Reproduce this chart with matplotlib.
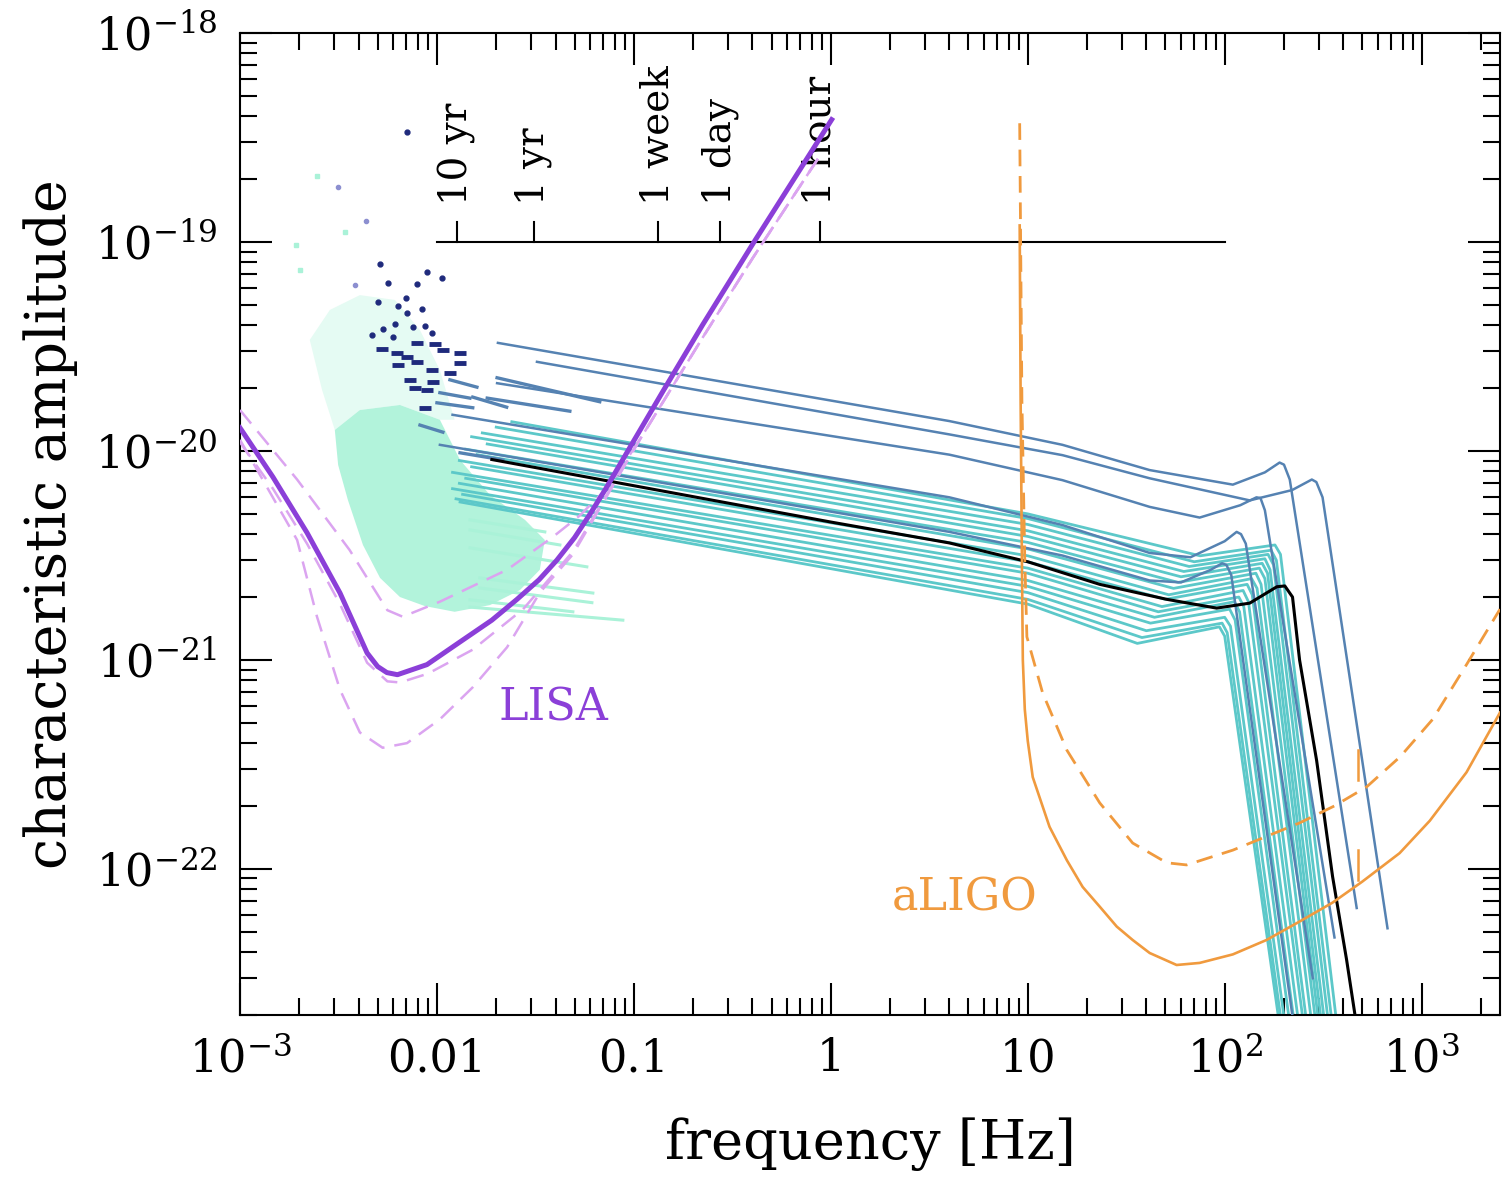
import numpy as np
import matplotlib
matplotlib.use('Agg')
import matplotlib.pyplot as plt
from matplotlib.ticker import NullFormatter

plt.rcParams['font.family'] = ['DejaVu Serif']
plt.rcParams['mathtext.fontset'] = 'dejavuserif'

# ---- LISA sensitivity (solid + three dashed alternatives) ----
lisa_f = [1e-3, 1.47e-3, 2.19e-3, 3.22e-3, 4.42e-3, 5.0e-3, 5.57e-3, 6.3e-3, 8.9e-3, 0.0131, 0.019,
          0.0255, 0.033, 0.0406, 0.05, 0.06, 0.072, 0.1, 0.14, 0.224, 0.402, 1.01]
lisa_h = [1.29e-20, 7.5e-21, 4.06e-21, 2.09e-21, 1.08e-21, 9.3e-22, 8.7e-22, 8.5e-22, 9.5e-22, 1.22e-21, 1.55e-21,
          1.95e-21, 2.42e-21, 3.0e-21, 3.85e-21, 5.0e-21, 6.6e-21, 1.12e-20, 1.92e-20, 4.03e-20, 9.8e-20, 3.85e-19]

lisa_a_f = [1e-3, 1.95e-3, 3.6e-3, 5.6e-3, 6.7e-3, 0.01035, 0.0227, 0.0388, 0.053, 0.075,
            0.107, 0.224, 0.402, 0.86]
lisa_a_h = [1.57e-20, 7.3e-21, 3.36e-21, 1.73e-21, 1.61e-21, 1.9e-21, 2.7e-21, 3.88e-21, 4.9e-21,
            6.8e-21, 1.13e-20, 3.5e-20, 8.4e-20, 2.5e-19]
lisa_b_f = [1e-3, 1.47e-3, 2.19e-3, 3.22e-3, 4.42e-3, 5.6e-3, 6.5e-3, 9.0e-3, 0.0152, 0.0274,
            0.049, 0.107, 0.224, 0.402, 0.86]
lisa_b_h = [1.1e-20, 6.6e-21, 3.6e-21, 1.85e-21, 9.7e-22, 7.9e-22, 7.8e-22, 8.6e-22, 1.12e-21,
            1.75e-21, 3.3e-21, 1.13e-20, 3.5e-20, 8.4e-20, 2.5e-19]
lisa_c_f = [1e-3, 1.95e-3, 2.46e-3, 3.22e-3, 4.06e-3, 5.3e-3, 7.05e-3, 0.01035, 0.0152, 0.0227,
            0.0333, 0.049, 0.107, 0.224, 0.402, 0.86]
lisa_c_h = [1.13e-20, 3.75e-21, 1.61e-21, 7.2e-22, 4.5e-22, 3.8e-22, 4.0e-22, 5.2e-22, 7.4e-22,
            1.15e-21, 2.1e-21, 3.2e-21, 1.13e-20, 3.5e-20, 8.4e-20, 2.5e-19]

# ---- aLIGO sensitivity ----
ligo_f = [9.1, 9.2, 9.34, 9.44, 9.66, 10.0, 10.6, 12.9, 15.8, 19.0, 23.2, 28.3, 34.1, 41.6, 57.0, 74.6,
          110, 163, 240, 353, 500, 773, 1100, 1690, 2500]
ligo_h = [1.2e-19, 1.75e-20, 3.0e-21, 1.0e-21, 5.8e-22, 4.1e-22, 2.75e-22, 1.59e-22, 1.1e-22, 8.2e-23,
          6.6e-23, 5.3e-23, 4.57e-23, 3.96e-23, 3.47e-23, 3.55e-23,
          3.9e-23, 4.57e-23, 5.6e-23, 6.9e-23, 8.7e-23, 1.19e-22, 1.7e-22, 2.9e-22, 5.6e-22]
ligo_d_f = [9.1, 9.34, 9.66, 9.9, 11.9, 15.8, 23.2, 34.1, 50.8, 64.1, 110, 240, 360, 526, 780, 1138, 1690, 2500]
ligo_d_h = [3.7e-19, 1.75e-20, 3.0e-21, 1.29e-21, 6.95e-22, 3.7e-22, 2.07e-22, 1.33e-22, 1.07e-22,
            1.045e-22, 1.23e-22, 1.66e-22, 2.0e-22, 2.47e-22, 3.45e-22, 5.2e-22, 9.5e-22, 1.75e-21]
ligo_mark_f = 473
ligo_mark_h = [(2.67e-22, 3.7e-22), (8.9e-23, 1.23e-22)]

# ---- time-to-coalescence scale ----
time_f = [0.0127, 0.031, 0.132, 0.275, 0.88]
time_lab = ['10 yr', '1 yr', '1 week', '1 day', '1 hour']
time_h = 1e-19
time_range = [0.01, 100]

# ---- full tracks (steel blue) ----
steel_tracks_f = [
    [0.0204, 4.0, 15, 41.6, 110, 160, 190, 200, 214, 468],
    [0.0322, 4.0, 15, 41.6, 134, 220, 277, 292, 314, 671],
    [0.0202, 4.0, 15, 41.6, 74.6, 120, 145, 152, 160, 361],
    [0.012, 4.0, 15, 41.6, 67, 100, 115, 121, 128, 280],
    [0.01035, 4.0, 15, 41.6, 60, 85, 97, 102, 108, 230],
]
steel_tracks_h = [
    [3.29e-20, 1.39e-20, 1.07e-20, 8.1e-21, 6.9e-21, 7.9e-21, 8.8e-21, 8.6e-21, 7.3e-21, 6.5e-23],
    [2.67e-20, 1.2e-20, 9.55e-21, 7.4e-21, 5.8e-21, 6.5e-21, 7.3e-21, 7.1e-21, 6.0e-21, 5.2e-23],
    [2.11e-20, 9.6e-21, 7.25e-21, 5.4e-21, 4.8e-21, 5.5e-21, 6.0e-21, 5.95e-21, 5.2e-21, 4.7e-23],
    [1.49e-20, 6.0e-21, 4.42e-21, 3.25e-21, 3.1e-21, 3.7e-21, 4.1e-21, 4.0e-21, 3.6e-21, 3.0e-23],
    [1.07e-20, 4.1e-21, 3.16e-21, 2.4e-21, 2.35e-21, 2.7e-21, 2.9e-21, 2.85e-21, 2.55e-21, 1.5e-23],
]

# ---- highlighted (black) track ----
black_f = [0.019, 1.0, 4.0, 10, 23.2, 50.8, 91, 134, 184, 202, 221, 240, 293, 353, 416, 457]
black_h = [9.1e-21, 4.57e-21, 3.63e-21, 2.95e-21, 2.3e-21, 1.95e-21, 1.77e-21, 1.87e-21, 2.24e-21,
           2.26e-21, 2.0e-21, 1.0e-21, 3.3e-22, 9.2e-23, 3.67e-23, 2.05e-23]

# ---- teal bundle: start, value at 10 Hz, dip, peak, shoulder, end ----
teal_f0 = [0.024, 0.020, 0.017, 0.015, 0.018, 0.014, 0.016, 0.013, 0.015, 0.012, 0.014, 0.013, 0.012, 0.0135, 0.0125, 0.0131]
teal_h0 = [1.38e-20, 1.30e-20, 1.22e-20, 1.17e-20, 1.08e-20, 1.02e-20, 9.6e-21, 9.0e-21, 8.4e-21, 7.9e-21, 7.4e-21, 7.0e-21, 6.6e-21, 6.2e-21, 5.9e-21, 5.7e-21]
teal_fk = 10
teal_hk = [5.0e-21, 4.75e-21, 4.45e-21, 4.15e-21, 3.9e-21, 3.65e-21, 3.4e-21, 3.15e-21, 2.95e-21, 2.75e-21, 2.6e-21, 2.4e-21, 2.25e-21, 2.1e-21, 1.95e-21, 1.85e-21]
teal_fd = [75, 70, 66, 62, 60, 58, 55, 52, 50, 48, 46, 44, 42, 40, 38, 36]
teal_hd = [3.15e-21, 2.95e-21, 2.8e-21, 2.65e-21, 2.5e-21, 2.35e-21, 2.2e-21, 2.05e-21, 1.95e-21, 1.8e-21, 1.7e-21, 1.6e-21, 1.5e-21, 1.38e-21, 1.28e-21, 1.2e-21]
teal_fp = [180, 172, 166, 160, 155, 150, 144, 137, 130, 124, 118, 112, 106, 100, 97, 94]
teal_hp = [3.55e-21, 3.35e-21, 3.2e-21, 3.05e-21, 2.9e-21, 2.75e-21, 2.6e-21, 2.45e-21, 2.3e-21, 2.15e-21, 2.0e-21, 1.9e-21, 1.75e-21, 1.6e-21, 1.5e-21, 1.44e-21]
teal_fs = [192, 183, 177, 170, 165, 160, 153, 146, 138, 132, 125, 119, 113, 107, 103, 100]
teal_hs = [3.2e-21, 3.0e-21, 2.85e-21, 2.7e-21, 2.6e-21, 2.45e-21, 2.3e-21, 2.2e-21, 2.05e-21, 1.9e-21, 1.8e-21, 1.7e-21, 1.55e-21, 1.45e-21, 1.35e-21, 1.3e-21]
teal_fe = [380, 360, 345, 330, 318, 308, 298, 284, 268, 258, 244, 232, 220, 208, 200, 195]
teal_he = 1.5e-23

# ---- short tracks / low-frequency sources ----
seg_f0 = [0.0082, 0.01, 0.01035, 0.01164, 0.0152, 0.0202, 0.018, 0.0131]
seg_h0 = [1.33e-20, 1.70e-20, 1.90e-20, 2.19e-20, 1.81e-20, 2.24e-20, 1.79e-20, 9.8e-21]
seg_f1 = [0.01072, 0.0152, 0.0147, 0.01596, 0.0226, 0.0671, 0.0473, 0.0216]
seg_h1 = [1.23e-20, 1.61e-20, 1.79e-20, 2.02e-20, 1.62e-20, 1.72e-20, 1.55e-20, 9.06e-21]

green_f0 = [0.01472, 0.0165, 0.0165, 0.01472, 0.01472, 0.01472, 0.01472]
green_h0 = [3.44e-21, 2.47e-21, 2.21e-21, 1.94e-21, 1.79e-21, 4.19e-21, 4.68e-21]
green_f1 = [0.0577, 0.0619, 0.0612, 0.049, 0.0879, 0.0421, 0.0353]
green_h1 = [2.79e-21, 2.09e-21, 1.88e-21, 1.70e-21, 1.55e-21, 3.55e-21, 4.1e-21]

cloud_f = [0.00303, 0.00406, 0.00649, 0.01035, 0.0131, 0.0186, 0.028, 0.0353, 0.0333, 0.0264,
           0.0186, 0.0123, 0.00869, 0.00649, 0.00514, 0.00421, 0.00353, 0.00315]
cloud_h = [1.26e-20, 1.57e-20, 1.66e-20, 1.41e-20, 9.06e-21, 6.15e-21, 4.68e-21, 3.75e-21, 2.7e-21, 2.16e-21,
           1.83e-21, 1.70e-21, 1.81e-21, 2.0e-21, 2.47e-21, 3.55e-21, 5.83e-21, 8.57e-21]
sparse_f = [0.00226, 0.00286, 0.00406, 0.00612, 0.0082, 0.01035, 0.0123, 0.01035, 0.00649, 0.00406, 0.00303, 0.00261]
sparse_h = [3.4e-20, 4.73e-20, 5.57e-20, 5.28e-20, 3.79e-20, 2.44e-20, 1.41e-20, 1.41e-20, 1.66e-20, 1.57e-20, 1.26e-20, 1.96e-20]
spot_f = [0.00246, 0.00202, 0.00341, 0.00193]
spot_h = [2.07e-19, 7.35e-20, 1.12e-19, 9.7e-20]

navy_f = [0.00705, 0.00514, 0.00889, 0.0106, 0.0079, 0.00564, 0.00697, 0.00501, 0.00634, 0.00705,
          0.00839, 0.00612, 0.00755, 0.00869, 0.00944, 0.00468, 0.00532, 0.00598]
navy_h = [3.36e-19, 7.85e-20, 7.18e-20, 6.73e-20, 6.3e-20, 6.37e-20, 5.4e-20, 5.16e-20, 4.94e-20, 4.57e-20,
          4.78e-20, 4.05e-20, 3.92e-20, 3.96e-20, 3.67e-20, 3.59e-20, 3.84e-20, 3.51e-20]
navy_dash_f = [0.0079, 0.00977, 0.01072, 0.0131, 0.00526, 0.00627, 0.00705, 0.0079, 0.00634, 0.0131,
               0.00944, 0.01164, 0.0073, 0.00955, 0.00773, 0.00889, 0.00869]
navy_dash_h = [3.29e-20, 3.25e-20, 3.04e-20, 2.94e-20, 3.08e-20, 2.94e-20, 2.82e-20, 2.67e-20, 2.58e-20, 2.64e-20,
               2.44e-20, 2.36e-20, 2.19e-20, 2.14e-20, 2.0e-20, 1.96e-20, 1.61e-20]
faint_f = [0.00315, 0.00437, 0.00384]
faint_h = [1.83e-19, 1.26e-19, 6.2e-20]

xticks = [1e-3, 1e-2, 1e-1, 1, 10, 100, 1000]
xticklabels = ['$10^{-3}$', '0.01', '0.1', '1', '10', '$10^{2}$', '$10^{3}$']
yticks = [1e-22, 1e-21, 1e-20, 1e-19, 1e-18]
yticklabels = ['$10^{-22}$', '$10^{-21}$', '$10^{-20}$', '$10^{-19}$', '$10^{-18}$']

green = '#aaf2d8'
teal = '#5cc8c9'
steel = '#5582b2'
navy = '#1f2a7c'
purple = '#8b3fd8'
lilac = '#dba4f0'
orange = '#f09a3e'

fig = plt.figure(figsize=(15.03, 11.77), dpi=100)
ax = fig.add_axes([240 / 1503, 162 / 1177, 1260 / 1503, 982 / 1177])
ax.set_xscale('log')
ax.set_yscale('log')

# cloud of short-lived sources
ax.fill(sparse_f, sparse_h, color=green, alpha=0.3, lw=0, zorder=1)
ax.fill(cloud_f, cloud_h, color=green, alpha=0.9, lw=0, zorder=1)
ax.plot(spot_f, spot_h, 's', ms=2.5, color=green, zorder=1)
for i in range(len(green_f0)):
    ax.plot([green_f0[i], green_f1[i]], [green_h0[i], green_h1[i]], color=green, lw=2.2, zorder=1)

# teal bundle
for i in range(len(teal_f0)):
    f = [teal_f0[i], teal_fk, teal_fd[i], teal_fp[i], teal_fs[i], teal_fe[i]]
    h = [teal_h0[i], teal_hk[i], teal_hd[i], teal_hp[i], teal_hs[i], teal_he]
    ax.plot(f, h, color=teal, lw=2.0, zorder=2, solid_joinstyle='round')

# steel tracks
for f, h in zip(steel_tracks_f, steel_tracks_h):
    ax.plot(f, h, color=steel, lw=1.8, zorder=3, solid_joinstyle='round')
for i in range(len(seg_f0)):
    ax.plot([seg_f0[i], seg_f1[i]], [seg_h0[i], seg_h1[i]], color=steel, lw=2.4, zorder=3)

ax.plot(black_f, black_h, color='black', lw=2.2, zorder=4, solid_joinstyle='round')

# bright early sources
ax.plot(navy_f, navy_h, 'o', ms=3.5, color=navy, zorder=3)
ax.plot(navy_dash_f, navy_dash_h, '_', ms=8, mew=3.5, color=navy, zorder=3)
ax.plot(faint_f, faint_h, 'o', ms=3, color='#8c8fd0', zorder=3)

# LISA
ax.plot(lisa_a_f, lisa_a_h, color=lilac, lw=1.8, dashes=(7, 4), zorder=5)
ax.plot(lisa_b_f, lisa_b_h, color=lilac, lw=1.8, dashes=(7, 4), zorder=5)
ax.plot(lisa_c_f, lisa_c_h, color=lilac, lw=1.8, dashes=(7, 4), zorder=5)
ax.plot(lisa_f, lisa_h, color=purple, lw=3.6, zorder=6, solid_joinstyle='round')

# aLIGO
ax.plot(ligo_d_f, ligo_d_h, color=orange, lw=2.0, dashes=(6, 3.5), zorder=5)
ax.plot(ligo_f, ligo_h, color=orange, lw=1.9, zorder=5, solid_joinstyle='round')
for lo, hi in ligo_mark_h:
    ax.plot([ligo_mark_f, ligo_mark_f], [lo, hi], color=orange, lw=1.8, zorder=5)

# time-to-coalescence scale
ax.plot(time_range, [time_h, time_h], color='black', lw=1.5, zorder=4)
for f, lab in zip(time_f, time_lab):
    ax.plot([f, f], [time_h, time_h * 1.25], color='black', lw=1.5, zorder=4)
    ax.text(f, time_h * 1.5, lab, rotation=90, ha='center', va='bottom', fontsize=28, zorder=4)

ax.text(0.039, 5.9e-22, 'LISA', color=purple, fontsize=32, ha='center', va='center')
ax.text(4.8, 7.3e-23, 'aLIGO', color=orange, fontsize=32, ha='center', va='center')

ax.set_xlim(1e-3, 2.5e3)
ax.set_ylim(2e-23, 1e-18)
ax.set_xticks(xticks, labels=xticklabels)
ax.set_yticks(yticks, labels=yticklabels)
ax.xaxis.set_minor_formatter(NullFormatter())
ax.yaxis.set_minor_formatter(NullFormatter())
ax.tick_params(which='both', direction='in', top=True, right=True, width=1.5, labelsize=32)
ax.tick_params(which='major', length=23, pad=16)
ax.tick_params(which='minor', length=12)
for s in ax.spines.values():
    s.set_linewidth(1.5)

ax.set_xlabel('frequency [Hz]', fontsize=39, labelpad=26)
ax.set_ylabel('characteristic amplitude', fontsize=40, labelpad=12)

fig.savefig('out.png', dpi=100)
